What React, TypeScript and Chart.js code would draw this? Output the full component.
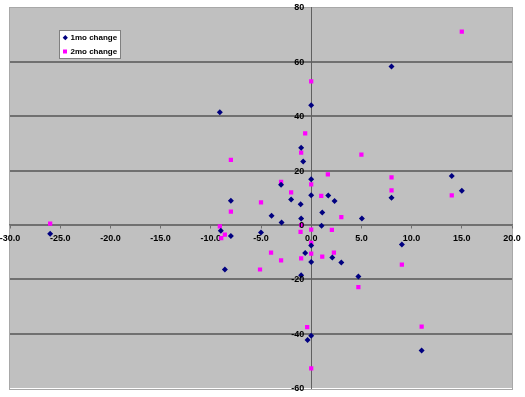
import React, { useEffect, useRef } from 'react';
import { Chart, registerables } from 'chart.js';

Chart.register(...registerables);

// 1mo change series (x, y)
const oneMonthX = [8.0, 0, -9.1, -1.0, -0.8, -3.0, 0, 0, 1.7, 8.0, 14.0, 15.0, -2.0, -8.0, -1.05, 2.33, 1.1, -3.95, 5.05, -1.0, -2.95, 1.03, -26.0, -9.0, -8.0, -5.0, 0, 9.03, -0.6, 2.1, 0, 3.0, -8.6, -1.0, 4.7, 0, -0.36, 11.0];
const oneMonthY = [58.3, 44.0, 41.5, 28.4, 23.3, 14.8, 16.8, 10.9, 10.8, 10.0, 18.0, 12.6, 9.4, 8.9, 7.6, 8.8, 4.6, 3.4, 2.4, 2.4, 0.85, -0.3, -3.2, -2.1, -4.1, -2.8, -7.6, -7.2, -10.3, -12.0, -13.6, -13.8, -16.4, -18.5, -19.0, -40.8, -42.3, -46.2];

// 2mo change series (x, y)
const twoMonthX = [15.0, 0, -0.6, -1.0, 5.0, -8.0, 1.66, 8.0, -3.0, 0, 8.0, -2.0, 14.0, 1.0, -5.0, -8.0, 3.0, -26.0, -9.1, -1.0, 0, 2.06, -1.06, -8.6, -8.96, 0, -4.0, 0, 2.26, 1.1, -1.0, -3.0, 9.03, -5.1, 4.7, -0.4, 11.0, 0];
const twoMonthY = [71.1, 52.8, 33.7, 26.6, 25.9, 23.9, 18.6, 17.5, 15.8, 14.9, 12.7, 12.0, 10.9, 10.7, 8.3, 4.9, 2.9, 0.5, -0.5, -0.1, -1.7, -1.8, -2.6, -3.6, -4.9, -6.6, -10.2, -10.6, -10.2, -11.7, -12.3, -13.0, -14.6, -16.4, -22.9, -37.6, -37.4, -52.8];

const seriesNames = ['1mo change', '2mo change'];
const seriesColors = ['#000080', '#FF00FF'];
const xMin = -30;
const xMax = 20;
const xStep = 5;
const yMin = -60;
const yMax = 80;
const yStep = 20;

const FONT = '"Liberation Sans", Arial, sans-serif';

const noPad = (scale: any) => {
  scale.paddingLeft = 0;
  scale.paddingRight = 0;
  scale.paddingTop = 0;
  scale.paddingBottom = 0;
};

const plotDecor = {
  id: 'plotDecor',
  beforeDraw(chart: any) {
    const { ctx, chartArea: a } = chart;
    ctx.save();
    ctx.fillStyle = '#FFFFFF';
    ctx.fillRect(0, 0, chart.width, chart.height);
    ctx.fillStyle = '#C0C0C0';
    ctx.fillRect(a.left, a.top, a.right - a.left, a.bottom - a.top);
    ctx.strokeStyle = '#A8A8A8';
    ctx.lineWidth = 1;
    ctx.strokeRect(Math.round(a.left) - 0.5, Math.round(a.top) - 0.5, Math.round(a.right - a.left) + 1, Math.round(a.bottom - a.top) + 1);
    ctx.restore();
  },
  afterDraw(chart: any) {
    const { ctx } = chart;
    const ys = chart.scales.y;
    const xs = chart.scales.x;
    ctx.save();
    // y-axis tick labels, right-aligned left of the vertical axis
    ctx.font = 'bold 9px ' + FONT;
    ctx.fillStyle = '#000000';
    ctx.textAlign = 'right';
    ctx.textBaseline = 'middle';
    const ax = xs.getPixelForValue(0);
    ys.ticks.forEach((t: any) => {
      ctx.fillText(String(t.value), ax - 7, ys.getPixelForValue(t.value) + 0.5);
    });

    // legend
    const lx = 59.5, ly = 30.5, lw = 61, lh = 28;
    ctx.fillStyle = '#FFFFFF';
    ctx.fillRect(lx, ly, lw, lh);
    ctx.strokeStyle = '#808080';
    ctx.strokeRect(lx, ly, lw, lh);
    ctx.font = 'bold 8px ' + FONT;
    ctx.textBaseline = 'middle';
    ctx.textAlign = 'left';
    const r = 2.6;
    ctx.fillStyle = seriesColors[0];
    ctx.beginPath();
    ctx.moveTo(65.3, 37.7 - r);
    ctx.lineTo(65.3 + r, 37.7);
    ctx.lineTo(65.3, 37.7 + r);
    ctx.lineTo(65.3 - r, 37.7);
    ctx.closePath();
    ctx.fill();
    ctx.fillStyle = '#000000';
    ctx.fillText(seriesNames[0], 70.5, 38);
    ctx.fillStyle = seriesColors[1];
    ctx.fillRect(63, 49.5, 4, 4);
    ctx.fillStyle = '#000000';
    ctx.fillText(seriesNames[1], 70.5, 52);
    ctx.restore();
  },
};

export default function App() {
  const ref = useRef<HTMLCanvasElement | null>(null);

  useEffect(() => {
    if (!ref.current) return;
    const d1 = oneMonthX.map((x, i) => ({ x, y: oneMonthY[i] }));
    const d2 = twoMonthX.map((x, i) => ({ x, y: twoMonthY[i] }));
    const chart = new Chart(ref.current, {
      type: 'scatter',
      data: {
        datasets: [
          {
            label: seriesNames[0],
            data: d1,
            pointStyle: 'rectRot',
            pointRadius: 3,
            pointHoverRadius: 3,
            backgroundColor: seriesColors[0],
            borderColor: seriesColors[0],
            borderWidth: 0,
          },
          {
            label: seriesNames[1],
            data: d2,
            pointStyle: 'rect',
            pointRadius: 3,
            pointHoverRadius: 3,
            backgroundColor: seriesColors[1],
            borderColor: seriesColors[1],
            borderWidth: 0,
          },
        ],
      },
      options: {
        responsive: false,
        animation: false,
        layout: { padding: { left: 10, right: 13, top: 7.5, bottom: 9 } },
        plugins: {
          legend: { display: false },
          tooltip: { enabled: false },
        },
        scales: {
          x: {
            type: 'linear',
            min: xMin,
            max: xMax,
            position: { y: 0 },
            afterFit: noPad,
            grid: {
              display: true,
              drawOnChartArea: false,
              drawTicks: true,
              tickLength: 3,
              color: '#707070',
            },
            border: { display: true, color: '#707070', width: 1.5 },
            ticks: {
              stepSize: xStep,
              padding: 5,
              color: '#000000',
              font: { family: FONT, size: 9, weight: 'bold' },
              callback: (v: any) => Number(v).toFixed(1),
            },
          },
          y: {
            type: 'linear',
            min: yMin,
            max: yMax,
            position: { x: 0 },
            afterFit: noPad,
            grid: {
              display: true,
              drawOnChartArea: true,
              drawTicks: true,
              tickLength: 3,
              lineWidth: 2,
              color: (c: any) =>
                c.tick && (c.tick.value === yMax || c.tick.value === yMin) ? 'rgba(0,0,0,0)' : '#707070',
            },
            border: { display: true, color: '#606060', width: 1 },
            ticks: {
              display: false,
              stepSize: yStep,
            },
          },
        },
      },
      plugins: [plotDecor],
    });
    return () => chart.destroy();
  }, []);

  return (
    <div style={{ position: 'fixed', left: 0, top: 0, width: 525, height: 397, background: '#fff' }}>
      <canvas ref={ref} width={525} height={397} style={{ display: 'block' }} />
    </div>
  );
}
